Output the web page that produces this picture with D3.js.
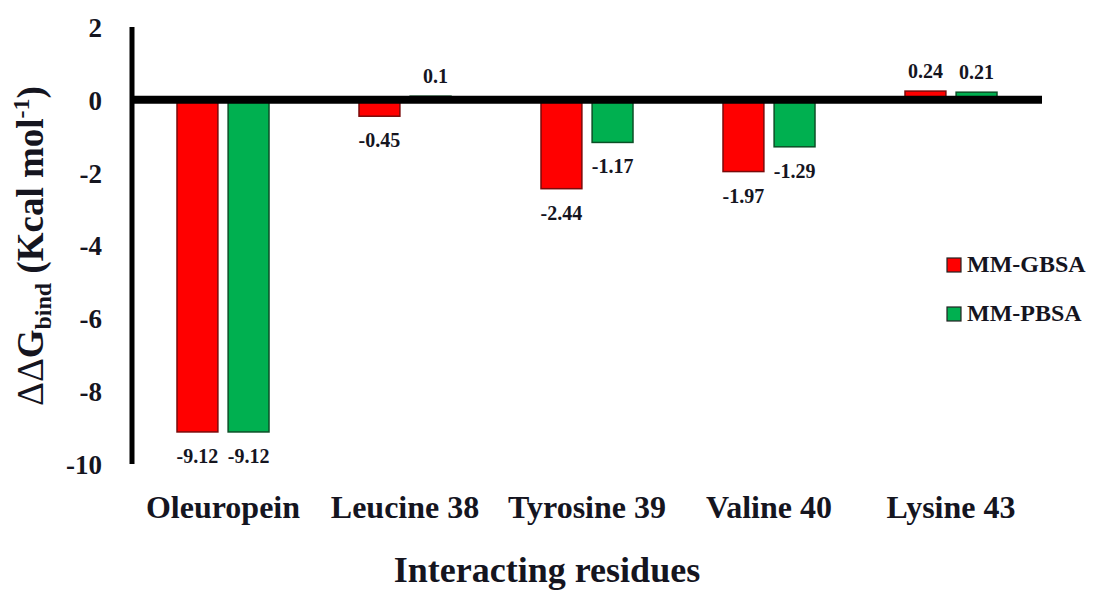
<!DOCTYPE html>
<html><head><meta charset="utf-8">
<script src="https://cdn.jsdelivr.net/npm/d3@7"></script>
<style>
body{margin:0;background:#fff;}
text{font-family:"Liberation Serif","Times New Roman",serif;font-weight:bold;fill:#15151f;}
</style></head>
<body><svg id="c" width="1094" height="590"></svg>
<script>
const categories = ["Oleuropein","Leucine 38","Tyrosine 39","Valine 40","Lysine 43"];
const seriesNames = ["MM-GBSA","MM-PBSA"];
const gbsa = [-9.12,-0.45,-2.44,-1.97,0.24];
const pbsa = [-9.12,0.1,-1.17,-1.29,0.21];
const yTicks = [2,0,-2,-4,-6,-8,-10];
const labelText = {"MM-GBSA":["-9.12","-0.45","-2.44","-1.97","0.24"],"MM-PBSA":["-9.12","0.1","-1.17","-1.29","0.21"]};

const fills = {"MM-GBSA":"#ff0000","MM-PBSA":"#00b050"};
const strokes = {"MM-GBSA":"#7a0a0a","MM-PBSA":"#0b4f26"};
const values = {"MM-GBSA":gbsa,"MM-PBSA":pbsa};

const svg = d3.select("#c");
const x0 = d3.scaleBand().domain(categories).range([132,1042]).padding(0);
const x1 = d3.scaleBand().domain(seriesNames).range([45,137]).paddingInner(0.2).paddingOuter(0);
const y = d3.scaleLinear().domain([-10,2]).range([464,27]);

const rows = [];
categories.forEach((c,i)=>seriesNames.forEach(s=>rows.push({c,s,v:values[s][i],t:labelText[s][i]})));

// bars
svg.append("g").selectAll("rect").data(rows).join("rect")
  .attr("x",d=>x0(d.c)+x1(d.s))
  .attr("width",x1.bandwidth())
  .attr("y",d=>y(Math.max(0,d.v)))
  .attr("height",d=>Math.abs(y(d.v)-y(0)))
  .attr("fill",d=>fills[d.s])
  .attr("stroke",d=>strokes[d.s])
  .attr("stroke-width",1.5);

// value labels
svg.append("g").selectAll("text").data(rows).join("text")
  .attr("x",d=>x0(d.c)+x1(d.s)+x1.bandwidth()/2 + (d.c==="Leucine 38"&&d.s==="MM-PBSA"?5:0))
  .attr("y",d=>d.v<0? y(d.v)+31 : y(d.v)-13)
  .attr("text-anchor","middle")
  .attr("font-size",20)
  .text(d=>d.t);

// y axis ticks
const yAxis = svg.append("g").attr("transform","translate(102,0)")
  .call(d3.axisLeft(y).tickValues(yTicks).tickSize(0).tickPadding(0).tickFormat(d=>String(d)));
yAxis.select(".domain").remove();
yAxis.selectAll("text").attr("font-size",27).attr("dy","0.35em").attr("x",0)
  .style("font-family","Liberation Serif").style("font-weight","bold").attr("fill","#15151f");

// axis lines
svg.append("line").attr("x1",132).attr("x2",132).attr("y1",y(2)).attr("y2",y(-10))
  .attr("stroke","#000").attr("stroke-width",5);
svg.append("line").attr("x1",130).attr("x2",1042).attr("y1",y(0)).attr("y2",y(0))
  .attr("stroke","#000").attr("stroke-width",8);

// x axis category labels
const xAxis = svg.append("g").attr("transform","translate(0,518)")
  .call(d3.axisBottom(x0).tickSize(0).tickPadding(0));
xAxis.select(".domain").remove();
xAxis.selectAll("text").attr("font-size",32).attr("dy",0).attr("y",0)
  .style("font-family","Liberation Serif").style("font-weight","bold").attr("fill","#15151f");

// axis titles
svg.append("text").attr("x",547).attr("y",582).attr("text-anchor","middle").attr("font-size",36)
  .text("Interacting residues");

const yt = svg.append("text").attr("transform","translate(43,246) rotate(-90)")
  .attr("text-anchor","middle").attr("font-size",37);
yt.append("tspan").attr("font-weight","normal").style("font-weight","normal").text("ΔΔ");
yt.append("tspan").text("G");
yt.append("tspan").attr("font-size",24).attr("dy",8).text("bind");
yt.append("tspan").attr("dy",-8).text(" (Kcal mol");
yt.append("tspan").attr("font-size",24).attr("dy",-14).text("-1");
yt.append("tspan").attr("dy",14).text(")");

// legend
const lg = svg.append("g").selectAll("g").data(seriesNames).join("g")
  .attr("transform",(d,i)=>`translate(947,${258+i*49})`);
lg.append("rect").attr("width",14).attr("height",14).attr("fill",d=>fills[d]).attr("stroke","#222").attr("stroke-width",1.2);
lg.append("text").attr("x",20).attr("y",14).attr("font-size",24).text(d=>d);
</script></body></html>
